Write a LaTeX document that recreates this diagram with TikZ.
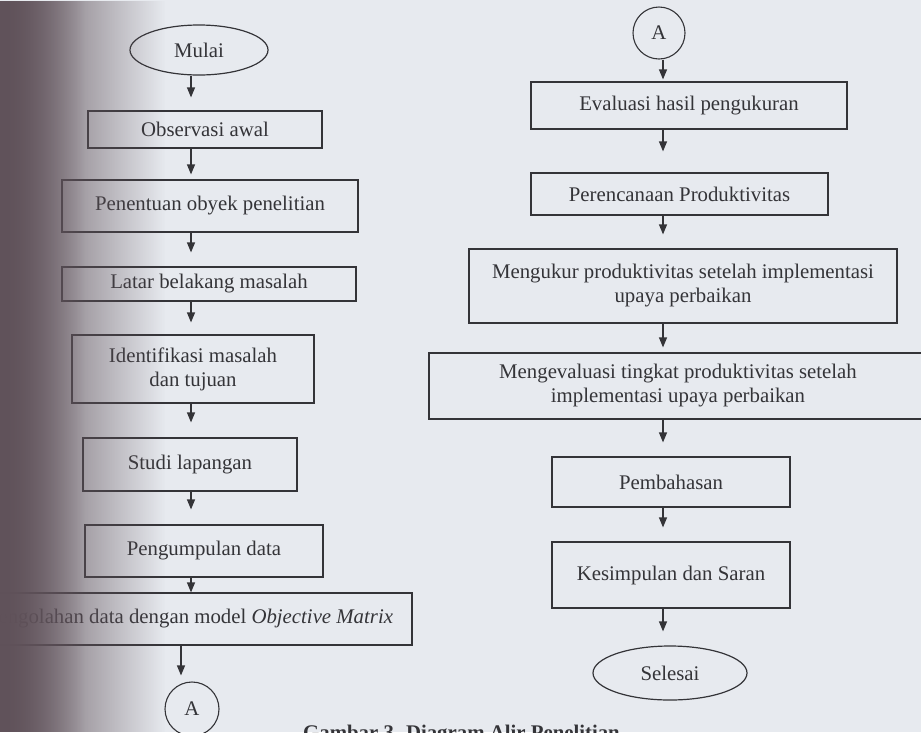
\documentclass[tikz,border=0pt]{standalone}
\usepackage{fontspec}
\setmainfont{Liberation Serif}
\usetikzlibrary{arrows.meta,shapes.geometric,fadings}
\definecolor{paper}{RGB}{231,234,239}
\definecolor{ink}{RGB}{52,52,56}
\definecolor{gutter}{RGB}{96,82,90}
\tikzfading[name=gutterfade, left color=transparent!0, right color=transparent!100]
\begin{document}
\begin{tikzpicture}[x=1pt,y=-1pt,
  font=\fontsize{20.8}{24}\selectfont,
  box/.style={draw=ink, line width=1.2pt, text=ink, align=center, inner sep=0pt, rectangle},
  term/.style={draw=ink, line width=1.2pt, text=ink, ellipse, inner sep=0pt},
  conn/.style={draw=ink, line width=1.1pt, text=ink, circle, inner sep=0pt},
  arr/.style={draw=ink, line width=1.2pt, -{Triangle[width=8pt,length=10pt]}}]
\useasboundingbox (0,0) rectangle (921,732);
\clip (0,0) rectangle (921,732);
\fill[paper] (0,0) rectangle (921,732);

% column coordinates
\coordinate (colL) at (191,0);
\coordinate (colLb) at (181,0);
\coordinate (colR) at (663,0);

% left column
\node[term, minimum width=138pt, minimum height=50pt] (mulai) at (199,50) {Mulai};
\node[box, minimum width=234pt, minimum height=37pt] (obs) at (205,129.5) {Observasi awal};
\node[box, minimum width=296pt, minimum height=52pt] (pen) at (210,206) {Penentuan obyek penelitian};
\node[box, minimum width=294pt, minimum height=34pt] (latar) at (209,284) {Latar belakang masalah};
\node[box, minimum width=242pt, minimum height=68pt] (ident) at (193,369) {Identifikasi masalah\\dan tujuan};
\node[box, minimum width=214pt, minimum height=53pt] (studi) at (190,464.5) {Studi lapangan};
\node[box, minimum width=238pt, minimum height=52pt] (pengum) at (204,551) {Pengumpulan data};
\node[box, minimum width=444pt, minimum height=52pt] (pengol) at (190,619) {Pengolahan data dengan model \textit{Objective Matrix}};
\node[conn, minimum size=54pt] (A1) at (192,709) {A};

% right column
\node[conn, minimum size=52pt] (A2) at (659,33) {A};
\node[box, minimum width=316pt, minimum height=47pt] (eval) at (689,105.5) {Evaluasi hasil pengukuran};
\node[box, minimum width=297pt, minimum height=42pt] (peren) at (679.5,194) {Perencanaan Produktivitas};
\node[box, minimum width=428pt, minimum height=74pt] (meng) at (683,286) {Mengukur produktivitas setelah implementasi\\upaya perbaikan};
\node[box, minimum width=498pt, minimum height=66pt] (mengev) at (678,386) {Mengevaluasi tingkat produktivitas setelah\\implementasi upaya perbaikan};
\node[box, minimum width=238pt, minimum height=50pt] (pemb) at (671,482) {Pembahasan};
\node[box, minimum width=238pt, minimum height=66pt] (kes) at (671,575) {Kesimpulan dan Saran};
\node[term, minimum width=154pt, minimum height=54pt] (sel) at (670,673) {Selesai};

% left connectors
\draw[arr, shorten >=13pt] (mulai.south -| colL) -- (obs.north -| colL);
\draw[arr, shorten >=5pt] (obs.south -| colL) -- (pen.north -| colL);
\draw[arr, shorten >=14pt] (pen.south -| colL) -- (latar.north -| colL);
\draw[arr, shorten >=12pt] (latar.south -| colL) -- (ident.north -| colL);
\draw[arr, shorten >=15pt] (ident.south -| colL) -- (studi.north -| colL);
\draw[arr, shorten >=15pt] (studi.south -| colL) -- (pengum.north -| colL);
\draw[arr] (pengum.south -| colL) -- (pengol.north -| colL);
\draw[arr, shorten >=6pt] (pengol.south -| colLb) -- (A1.north -| colLb);

% right connectors
\draw[arr, shorten >=2pt] (A2.south -| colR) -- (eval.north -| colR);
\draw[arr, shorten >=21pt] (eval.south -| colR) -- (peren.north -| colR);
\draw[arr, shorten >=14pt] (peren.south -| colR) -- (meng.north -| colR);
\draw[arr, shorten >=5pt] (meng.south -| colR) -- (mengev.north -| colR);
\draw[arr, shorten >=14pt] (mengev.south -| colR) -- (pemb.north -| colR);
\draw[arr, shorten >=14pt] (pemb.south -| colR) -- (kes.north -| colR);
\draw[arr, shorten >=14pt] (kes.south -| colR) -- (sel.north -| colR);

% caption (cut by the page edge, as in the scan)
\node[anchor=north west, inner sep=0pt, text=ink, font=\bfseries\fontsize{20.8}{24}\selectfont] (cap) at (303,725) {Gambar 3. Diagram Alir Penelitian};

% book gutter shadow
\fill[gutter, path fading=gutterfade] (0,0) rectangle (165,732);
\fill[gutter, path fading=gutterfade] (0,0) rectangle (85,732);
\end{tikzpicture}
\end{document}
